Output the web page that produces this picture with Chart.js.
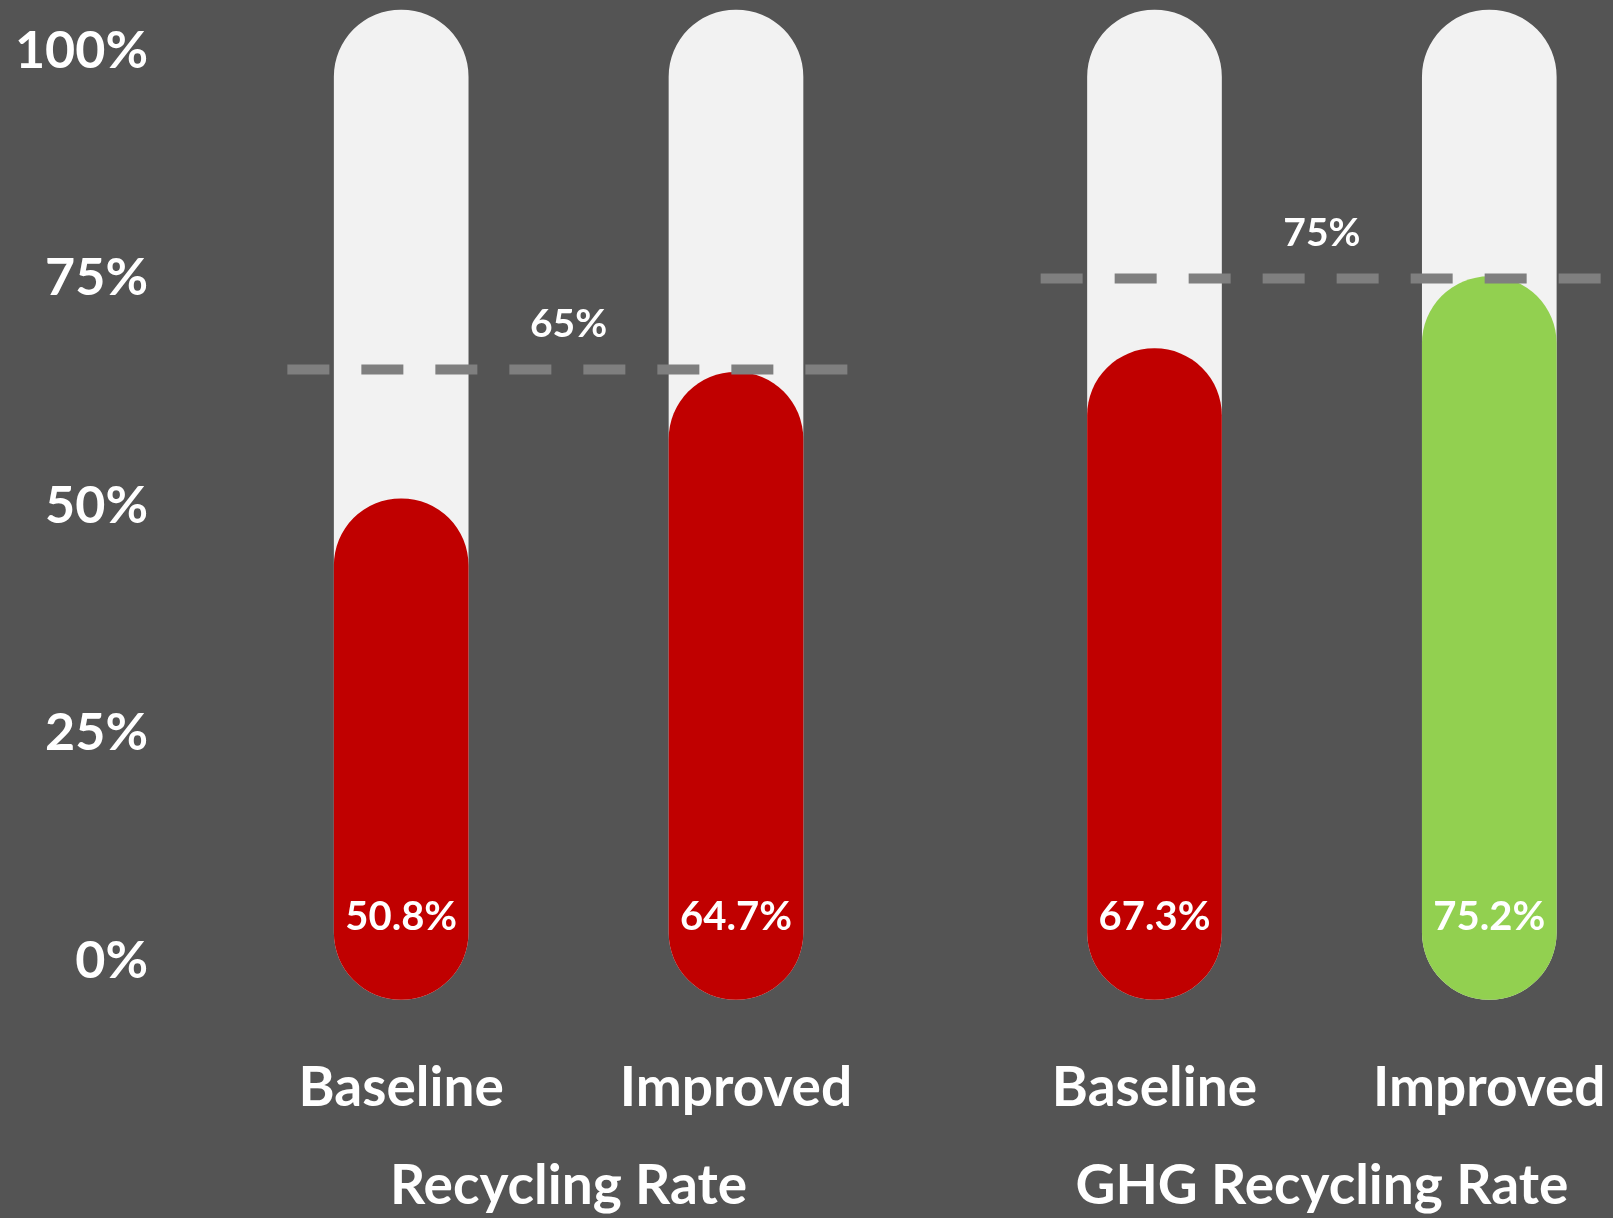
<!DOCTYPE html>
<html>
<head>
<meta charset="utf-8">
<script src="https://cdn.jsdelivr.net/npm/chart.js@4/dist/chart.umd.min.js"></script>
<style>
  html, body { margin: 0; padding: 0; background: #545454; }
  #chart { display: block; }
</style>
</head>
<body>
<canvas id="chart" width="1613" height="1218"></canvas>
<script>
// ---- data ----
const CATEGORIES = ['Baseline', 'Improved', 'Baseline', 'Improved'];
const GROUPS = ['Recycling Rate', 'GHG Recycling Rate'];
const RATES = [50.8, 64.7, 67.3, 75.2];
const TARGETS = [65, 75];
const Y_TICKS = [0, 25, 50, 75, 100];
const TRACK_RANGE = [-4.2, 104.5];   // value range of the grey thermometer tube
const BAR_COLORS = ['#C00000', '#C00000', '#C00000', '#92D050'];

// ---- layout on the linear x axis (wider gap between the two groups) ----
const BAR_X = [0, 1, 2.25, 3.25];
const GROUP_X = [0.5, 2.75];
const TARGET_HALF_SPAN = 0.84;
const X_MIN = -0.7204, X_MAX = 3.6195;
const FONT = 'Lato';

const tickFont = size => ({ family: FONT, weight: 'bold', size });

// keep edge labels from pushing the plot area inwards
const noEdgePadding = a => {
  a.paddingLeft = 0; a.paddingRight = 0; a.paddingTop = 0; a.paddingBottom = 0;
};

const barLabels = {
  id: 'barLabels',
  afterDatasetsDraw(chart) {
    const { ctx, scales: { x, y } } = chart;
    const meta = chart.getDatasetMeta(1);
    ctx.save();
    ctx.fillStyle = '#FFFFFF';
    ctx.textAlign = 'center';
    ctx.textBaseline = 'middle';
    ctx.font = `bold 40px ${FONT}`;
    meta.data.forEach((bar, i) => {
      ctx.fillText(RATES[i].toFixed(1) + '%', bar.x, bar.base - 82);
    });
    ctx.font = `bold 39px ${FONT}`;
    TARGETS.forEach((t, g) => {
      ctx.fillText(t + '%', x.getPixelForValue(GROUP_X[g]), y.getPixelForValue(t) - 45);
    });
    ctx.restore();
  }
};

const targetLines = TARGETS.map((t, g) => ({
  type: 'line',
  label: 'Target ' + GROUPS[g],
  data: [
    { x: GROUP_X[g] - TARGET_HALF_SPAN, y: t },
    { x: GROUP_X[g] + TARGET_HALF_SPAN, y: t }
  ],
  borderColor: '#7F7F7F',
  borderWidth: 10,
  borderDash: [42, 32],
  borderCapStyle: 'butt',
  pointRadius: 0,
  fill: false,
  order: 1
}));

new Chart(document.getElementById('chart'), {
  type: 'bar',
  data: {
    datasets: [
      {
        label: 'Track',
        data: BAR_X.map(x => ({ x, y: TRACK_RANGE.slice() })),
        backgroundColor: '#F2F2F2',
        grouped: false,
        barThickness: 134,
        borderRadius: 67,
        borderSkipped: false,
        order: 3
      },
      {
        label: 'Rate',
        data: BAR_X.map((x, i) => ({ x, y: [TRACK_RANGE[0], RATES[i]] })),
        backgroundColor: BAR_COLORS,
        grouped: false,
        barThickness: 134,
        borderRadius: 67,
        borderSkipped: false,
        order: 2
      },
      ...targetLines
    ]
  },
  options: {
    responsive: false,
    animation: false,
    devicePixelRatio: 1,
    layout: { padding: 0 },
    plugins: { legend: { display: false }, tooltip: { enabled: false } },
    scales: {
      x: {
        type: 'linear',
        min: X_MIN, max: X_MAX,
        offset: false,
        weight: 0,
        grid: { display: false, drawTicks: false },
        border: { display: false },
        afterBuildTicks: a => { a.ticks = BAR_X.map(v => ({ value: v })); },
        afterFit: a => { a.height = 100; noEdgePadding(a); },
        ticks: {
          color: '#FFFFFF',
          font: tickFont(55),
          padding: 21,
          autoSkip: false,
          maxRotation: 0,
          callback: (v, i) => CATEGORIES[i]
        }
      },
      x2: {
        type: 'linear',
        position: 'bottom',
        min: X_MIN, max: X_MAX,
        offset: false,
        weight: 1,
        grid: { display: false, drawTicks: false },
        border: { display: false },
        afterBuildTicks: a => { a.ticks = GROUP_X.map(v => ({ value: v })); },
        afterFit: a => { a.height = 84; noEdgePadding(a); },
        ticks: {
          color: '#FFFFFF',
          font: tickFont(55),
          padding: 19,
          autoSkip: false,
          maxRotation: 0,
          callback: (v, i) => GROUPS[i]
        }
      },
      y: {
        min: -8, max: 105.6,
        grid: { display: false, drawTicks: false },
        border: { display: false },
        afterBuildTicks: a => { a.ticks = Y_TICKS.map(v => ({ value: v })); },
        afterFit: a => { a.width = 160; noEdgePadding(a); },
        ticks: {
          color: '#FFFFFF',
          font: tickFont(52),
          padding: 12,
          callback: v => v + '%'
        }
      }
    }
  },
  plugins: [barLabels]
});
</script>
</body>
</html>
